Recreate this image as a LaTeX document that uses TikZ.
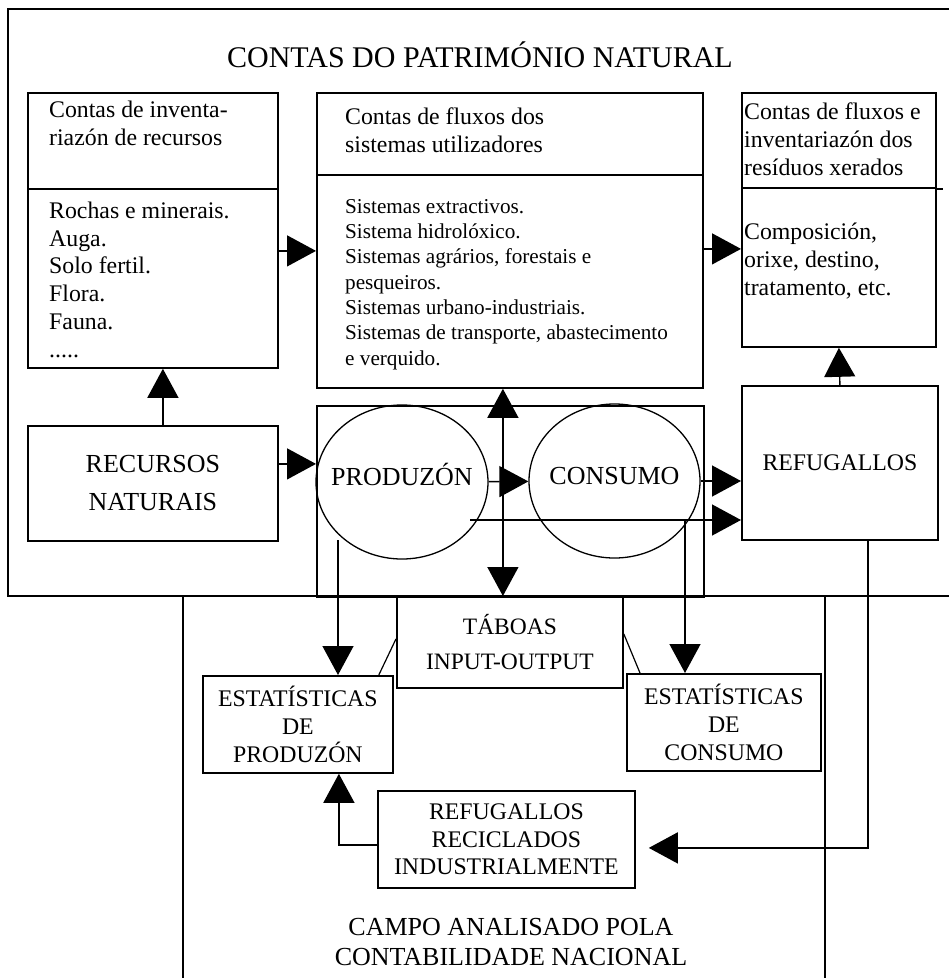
\documentclass[tikz,border=0pt]{standalone}
\usepackage{fontspec}
\setmainfont{Liberation Serif}
\usetikzlibrary{positioning,arrows.meta,shapes.geometric}

\begin{document}
\begin{tikzpicture}[
  x=1pt, y=-1pt,
  box/.style={draw, line width=1.8pt, inner sep=0pt, anchor=north west},
  lista/.style={anchor=base west, align=left, inner sep=0pt},
  cartel/.style={align=center, inner sep=0pt},
  bola/.style={draw, ellipse, line width=1.3pt, inner ysep=0pt, inner xsep=-25pt, text height=12pt, text depth=6pt},
  grande/.style={font=\fontsize{30}{34}\selectfont},
  medio/.style={font=\fontsize{26}{30}\selectfont},
  texto/.style={font=\fontsize{23.8}{27.7}\selectfont},
  miudo/.style={font=\fontsize{21.2}{25.3}\selectfont},
  flow/.style={line width=1.4pt, -{Triangle[length=29pt,width=31pt]}},
  flowboth/.style={line width=1.4pt, {Triangle[length=29pt,width=31pt]}-{Triangle[length=29pt,width=31pt]}}
]
  \useasboundingbox (0,0) rectangle (949,978);

  % outer frames
  \draw[line width=1.8pt] (949,9) -- (8,9) -- (8,596) -- (949,596);
  \draw[line width=1.6pt] (183,596) -- (183,978) (825,596) -- (825,978);

  \node (titulo) [grande, anchor=base, inner sep=0pt] at (480,67) {CONTAS DO PATRIMÓNIO NATURAL};

  % accounts (text nodes sit on their last baseline)
  \node (invcab) [box, minimum width=250, minimum height=96] at (27,92) {};
  \node (invcorpo) [box, minimum width=250, minimum height=179] at (27,188) {};
  \node (invcabtxt) [lista, texto] at (49,145) {Contas de inventa-\\riazón de recursos};
  \node (invcorpotxt) [lista, texto] at (49,357) {Rochas e minerais.\\Auga.\\Solo fertil.\\Flora.\\Fauna.\\.....};

  \node (fluxcab) [box, minimum width=386, minimum height=82] at (316,92) {};
  \node (fluxcorpo) [box, minimum width=386, minimum height=213] at (316,174) {};
  \node (fluxcabtxt) [lista, texto] at (345,152) {Contas de fluxos dos\\sistemas utilizadores};
  \node (fluxcorpotxt) [lista, miudo] at (345,365) {Sistemas extractivos.\\Sistema hidrolóxico.\\Sistemas agrários, forestais e\\pesqueiros.\\Sistemas urbano-industriais.\\Sistemas de transporte, abastecimento\\e verquido.};

  \node (resicab) [box, minimum width=194, minimum height=95] at (741,92) {};
  \node (resicorpo) [box, minimum width=194, minimum height=159] at (741,187) {};
  \node (resicabtxt) [lista, texto] at (744,175) {Contas de fluxos e\\inventariazón dos\\resíduos xerados};
  \node (resicorpotxt) [lista, texto] at (744,295) {Composición,\\orixe, destino,\\tratamento, etc.};

  % flows
  \node (recursos) [box, cartel, font=\fontsize{26}{38}\selectfont, minimum width=250, minimum height=115] at (27,425) {RECURSOS\\NATURAIS};
  \node (nucleo) [box, minimum width=387, minimum height=191] at (316,405) {};
  \node (produzon) [bola, medio, minimum width=172, minimum height=154] at (402,482) {PRODUZÓN};
  \node (consumo) [bola, medio, minimum width=171, minimum height=154] at (614.5,481) {CONSUMO};
  \node (refugallos) [box, texto, minimum width=196, minimum height=154] at (741,385) {REFUGALLOS};

  % national accounts
  \node (taboas) [box, cartel, font=\fontsize{23.5}{35}\selectfont, minimum width=226, minimum height=91] at (396,596) {TÁBOAS\\INPUT-OUTPUT};
  \node (estprod) [box, cartel, texto, minimum width=190, minimum height=97] at (202,675) {ESTATÍSTICAS\\DE\\PRODUZÓN};
  \node (estcons) [box, cartel, texto, minimum width=194, minimum height=97] at (626,673) {ESTATÍSTICAS\\DE\\CONSUMO};
  \node (reciclados) [box, cartel, texto, minimum width=257, minimum height=97] at (377,790) {REFUGALLOS\\RECICLADOS\\INDUSTRIALMENTE};
  \node (campo) [cartel, anchor=base, medio] at (511,965) {CAMPO ANALISADO POLA\\CONTABILIDADE NACIONAL};

  % arrows
  \coordinate (rn) at ([yshift=19.5pt]recursos.east);
  \coordinate (ia) at ([yshift=27.5pt]invcorpo.east);
  \coordinate (fa) at ([yshift=32.5pt]fluxcorpo.east);
  \coordinate (pr) at (470,520);
  \coordinate (pd) at (338,540);
  \coordinate (cd) at (685,520);

  \draw[flow] ([xshift=10pt]recursos.north) -- ([xshift=10pt]invcorpo.south);
  \draw[flow] (rn) -- (rn -| nucleo.west);
  \draw[flow] (ia) -- (ia -| fluxcorpo.west);
  \draw[flow] (fa) -- (fa -| resicorpo.west);
  \draw[flow] (produzon) -- (consumo);
  \draw[flow] (consumo.east) -- (consumo.east -| refugallos.west);
  \draw[flow] (pr) -- (pr -| refugallos.west);
  \draw[flowboth] ([xshift=-7pt]fluxcorpo.south) -- ([xshift=-7pt]taboas.north);
  \draw[flow] (pd) -- (pd |- estprod.north);
  \draw[flow] (cd) -- (cd |- estcons.north);
  \draw[flow] (refugallos.north) -- (resicorpo.south);
  \draw[flow, shorten >=13pt] ([xshift=28pt]refugallos.south) |- ([yshift=-8.5pt]reciclados.east);
  \draw[flow] ([yshift=-5.5pt]reciclados.west) -| ([xshift=41pt]estprod.south);
  \draw[line width=1.2pt] ([yshift=3.5pt]taboas.west) -- ([xshift=-15pt]estprod.north east);
  \draw[line width=1.2pt] ([yshift=8.5pt]taboas.east) -- ([xshift=14pt]estcons.north west);
  \draw[line width=1.8pt] (resicab.south east) -- ++(6,0);
\end{tikzpicture}
\end{document}
